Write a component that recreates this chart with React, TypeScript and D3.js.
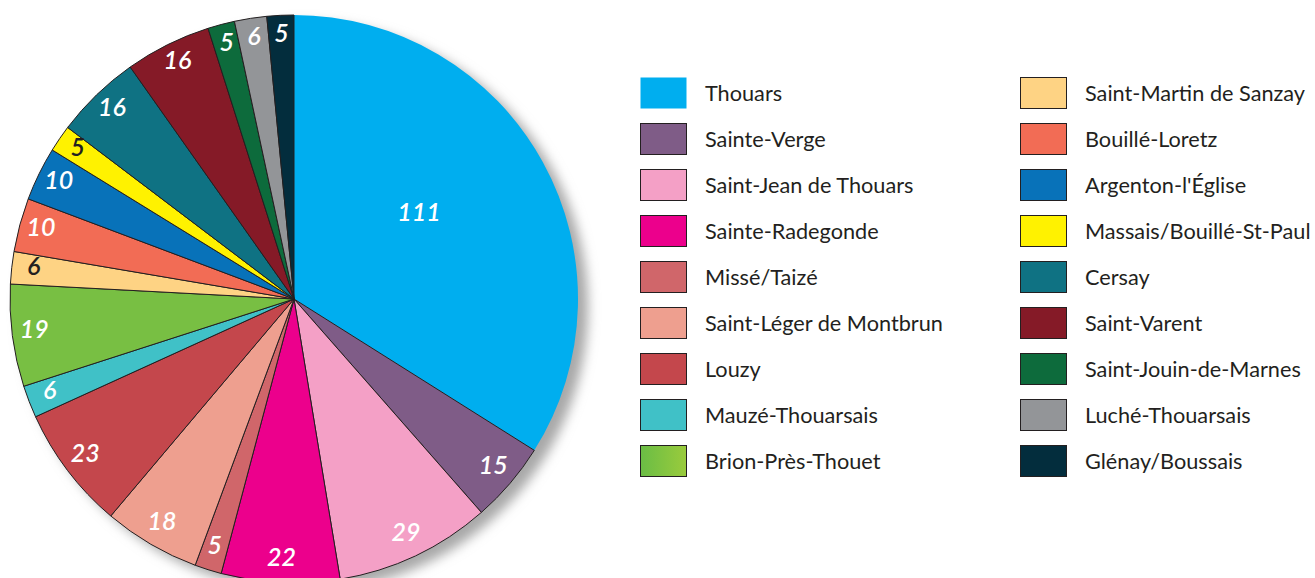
import React from "react";
import * as d3 from "d3";

const communes = [
  "Thouars", "Sainte-Verge", "Saint-Jean de Thouars", "Sainte-Radegonde", "Missé/Taizé",
  "Saint-Léger de Montbrun", "Louzy", "Mauzé-Thouarsais", "Brion-Près-Thouet",
  "Saint-Martin de Sanzay", "Bouillé-Loretz", "Argenton-l'Église", "Massais/Bouillé-St-Paul",
  "Cersay", "Saint-Varent", "Saint-Jouin-de-Marnes", "Luché-Thouarsais", "Glénay/Boussais",
];
const values = [111, 15, 29, 22, 5, 18, 23, 6, 19, 6, 10, 10, 5, 16, 16, 5, 6, 5];
const colors = [
  "#00aeef", "#7f5c87", "#f4a0c6", "#ec008c", "#d0666a", "#ee9f8f", "#c4474c", "#40c1c7",
  "url(#brion)", "#fed384", "#f26c55", "#0872b9", "#fff200", "#0f7283", "#851a27",
  "#0d6b3c", "#939598", "#032d3d",
];
const darkLabel = [false, false, false, false, false, false, false, false, false, true, false, false, true, false, false, false, false, false];

const W = 1315, H = 578;
const cx = 294, cy = 299, R = 284;
const INK = "#231f20";

export default function App() {
  const pie = d3.pie<number>().sort(null).value((d) => d)(values);
  const arc = d3.arc<d3.PieArcDatum<number>>().innerRadius(0).outerRadius(R);
  const labelR = 262;
  const bigLabelR = 150;

  const rowY = (i: number) => 77 + i * 46;

  return (
    <svg width={W} height={H} style={{ position: "absolute", left: 0, top: 0, background: "#fff" }}>
      <defs>
        <linearGradient id="brion" gradientUnits="userSpaceOnUse" x1={10} x2={294} y1={0} y2={0}>
          <stop offset="0" stopColor="#78bf43" />
          <stop offset="1" stopColor="#8dc63f" />
        </linearGradient>
        <linearGradient id="brionLeg" x1="0" x2="1" y1="0" y2="0">
          <stop offset="0" stopColor="#6abd45" />
          <stop offset="1" stopColor="#9acb3c" />
        </linearGradient>
        <filter id="shadow" x="-20%" y="-20%" width="140%" height="140%">
          <feGaussianBlur stdDeviation="6" />
        </filter>
      </defs>
      <circle cx={cx + 10} cy={cy + 8} r={R} fill="#a8a8a8" filter="url(#shadow)" />
      <g transform={`translate(${cx},${cy})`}>
        {pie.map((d, i) => (
          <path
            key={i}
            d={arc(d) as string}
            fill={colors[i]}
            stroke={i === 0 ? "none" : INK}
            strokeWidth={i === 0 ? 0 : 1}
            strokeLinejoin="round"
          />
        ))}
        {pie.map((d, i) => {
          const mid = (d.startAngle + d.endAngle) / 2 - (i === 0 ? 0.08 : 0);
          const r = i === 0 ? bigLabelR : labelR;
          const x = r * Math.sin(mid);
          const y = -r * Math.cos(mid);
          return (
            <text
              key={"l" + i}
              x={x}
              y={y}
              dy={-5}
              textAnchor="middle"
              dominantBaseline="central"
              fontFamily="Lato, 'Open Sans', sans-serif"
              fontStyle="italic"
              fontWeight={600}
              fontSize={25}
              fill={darkLabel[i] ? INK : "#fff"}
            >
              {values[i]}
            </text>
          );
        })}
      </g>
      <g>
        {communes.map((c, i) => {
          const col = i < 9 ? 0 : 1;
          const row = i < 9 ? i : i - 9;
          const x0 = col === 0 ? 640 : 1020;
          const y0 = rowY(row);
          return (
            <g key={"g" + i}>
              <rect
                x={x0 + 0.5}
                y={y0 + 0.5}
                width={46}
                height={31}
                fill={i === 8 ? "url(#brionLeg)" : colors[i]}
                stroke={i === 0 ? "none" : INK}
                strokeWidth={1}
              />
              <text
                x={x0 + 65}
                y={y0 + 16}
                dominantBaseline="central"
                fontFamily="Lato, 'Open Sans', sans-serif"
                fontSize={21.7}
                fill={INK}
              >
                {c}
              </text>
            </g>
          );
        })}
      </g>
    </svg>
  );
}
